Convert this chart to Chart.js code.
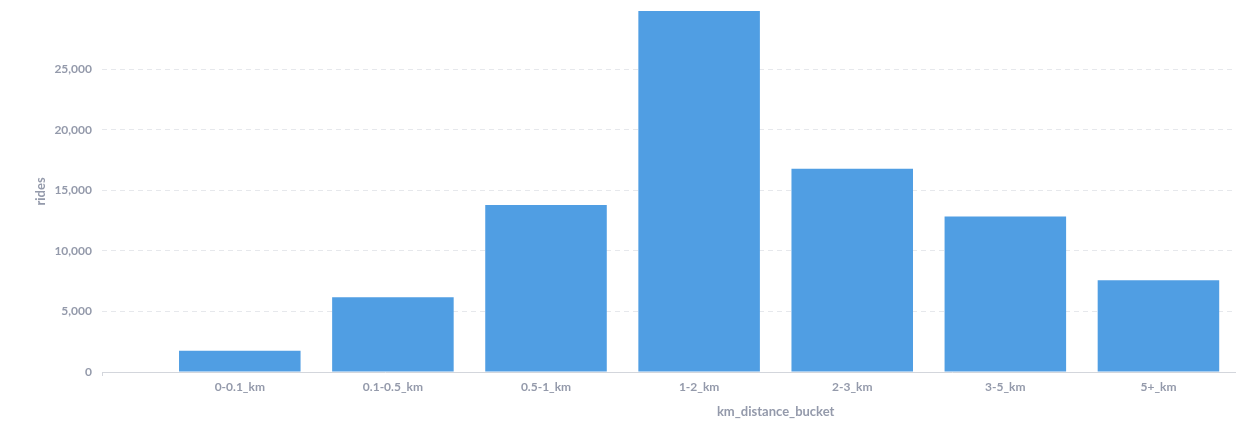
<!DOCTYPE html>
<html>
<head>
<meta charset="utf-8">
<script src="https://cdn.jsdelivr.net/npm/chart.js@4"></script>
<style>
  html, body { margin: 0; padding: 0; background: #ffffff; }
  #wrap { width: 1244px; height: 436px; }
</style>
</head>
<body>
<div id="wrap"><canvas id="c" width="1244" height="436"></canvas></div>
<script>
const categories = ['0-0.1_km', '0.1-0.5_km', '0.5-1_km', '1-2_km', '2-3_km', '3-5_km', '5+_km'];
const rides = [1760, 6180, 13800, 29810, 16780, 12840, 7580];
const yTickStep = 5000;
const xTitle = 'km_distance_bucket';
const yTitle = 'rides';

const TEXT = '#949aab';
const GRID = '#e6e8ec';
const AXIS = '#d3d6dc';
const BAR = '#509ee3';
const X_MIN = -0.9, X_MAX = 6.5;

const xTitlePlugin = {
  id: 'xTitle',
  afterDraw(chart) {
    const xs = chart.scales.x;
    const ctx = chart.ctx;
    ctx.save();
    ctx.font = 'bold 13px Lato';
    ctx.fillStyle = TEXT;
    ctx.textAlign = 'center';
    ctx.textBaseline = 'middle';
    ctx.fillText(xTitle, xs.getPixelForValue(categories.length / 2), xs.top + 40);
    ctx.restore();
  }
};

new Chart(document.getElementById('c'), {
  type: 'bar',
  data: {
    datasets: [{
      data: rides.map((v, i) => ({ x: i, y: v })),
      backgroundColor: BAR,
      borderWidth: 0,
      categoryPercentage: 1,
      barPercentage: 0.882
    }]
  },
  options: {
    responsive: false,
    animation: false,
    layout: { padding: { top: 11, right: 9, bottom: 0, left: 0 } },
    plugins: { legend: { display: false }, tooltip: { enabled: false } },
    scales: {
      x: {
        type: 'linear',
        offset: false,
        min: X_MIN,
        max: X_MAX,
        afterBuildTicks(scale) {
          scale.ticks = [{ value: X_MIN }].concat(categories.map((_, i) => ({ value: i })));
        },
        afterFit(scale) { scale.height = 64; scale.paddingLeft = 0; scale.paddingRight = 0; },
        grid: {
          offset: false,
          drawOnChartArea: false,
          drawTicks: true,
          tickLength: 4,
          color: (ctx) => (ctx.tick && ctx.tick.value === X_MIN) ? AXIS : 'rgba(0,0,0,0)'
        },
        border: { display: true, color: AXIS, width: 1 },
        ticks: {
          autoSkip: false,
          maxRotation: 0,
          padding: 4,
          color: TEXT,
          font: { family: 'Lato', size: 12, weight: 'bold' },
          callback: (v) => (Number.isInteger(v) && categories[v] !== undefined) ? categories[v] : ''
        }
      },
      y: {
        min: 0,
        max: Math.max(...rides),
        afterBuildTicks(scale) {
          const t = [];
          for (let v = 0; v <= scale.max; v += yTickStep) t.push({ value: v });
          scale.ticks = t;
        },
        afterFit(scale) { scale.width = 102; scale.paddingTop = 0; scale.paddingBottom = 0; },
        ticks: {
          padding: 10,
          color: TEXT,
          font: { family: 'Lato', size: 12, weight: 'bold' },
          callback: (v) => v.toLocaleString('en-US')
        },
        grid: {
          drawTicks: false,
          color: (ctx) => (ctx.tick && ctx.tick.value === 0) ? 'rgba(0,0,0,0)' : GRID,
          lineWidth: 1
        },
        border: { display: false, dash: [5, 4] },
        title: {
          display: true,
          text: yTitle,
          color: TEXT,
          font: { family: 'Lato', size: 13, weight: 'bold' },
          padding: { top: 33, bottom: 0 }
        }
      }
    }
  },
  plugins: [xTitlePlugin]
});
</script>
</body>
</html>
